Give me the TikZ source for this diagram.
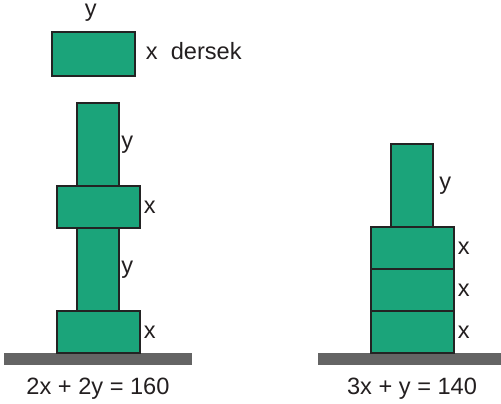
\documentclass[tikz,border=0pt]{standalone}
\usepackage{fontspec}
\setmainfont{Liberation Sans}
\usepackage{tikz}
\usetikzlibrary{positioning}
\definecolor{blockgreen}{RGB}{27,164,122}
\definecolor{edgegray}{RGB}{35,35,35}
\definecolor{groundgray}{RGB}{100,100,100}
\definecolor{textgray}{RGB}{35,31,32}
\tikzset{
  xblock/.style={
    rectangle, draw=edgegray, line width=1.5pt, fill=blockgreen,
    minimum width=62.25pt, minimum height=31.5pt, inner sep=0pt, outer sep=0pt
  },
  yblock/.style={
    xblock, minimum width=31.5pt, minimum height=62.25pt
  },
  ground/.style={
    rectangle, fill=groundgray, minimum width=141pt, minimum height=9pt,
    inner sep=0pt, outer sep=0pt
  },
  lbl/.style={
    inner sep=1pt, text=textgray, font=\fontsize{17.7}{20}\selectfont
  }
}
\begin{document}
\begin{tikzpicture}[x=0.75pt, y=-0.75pt]
  \useasboundingbox (0,0) rectangle (501,404);

  % Legend block
  \node[xblock, minimum height=33pt] (topbox) at (93.5,54) {};
  \node[lbl, above=6.5pt of topbox, xshift=-2pt] (toplab) {y};
  \node[lbl, right=7pt of topbox, yshift=2pt] (legend) {x\ \ dersek};

  % Left tower: 2x + 2y
  \node[ground] (groundL) at (98,359) {};
  \node[xblock, above=0pt of groundL] (xL1) {};
  \node[yblock, above=0pt of xL1] (yL1) {};
  \node[xblock, above=0pt of yL1] (xL2) {};
  \node[yblock, above=0pt of xL2] (yL2) {};
  \node[lbl, right=2pt of xL1] (xL1lab) {x};
  \node[lbl, right=0.5pt of yL1] (yL1lab) {y};
  \node[lbl, right=2pt of xL2] (xL2lab) {x};
  \node[lbl, right=0.5pt of yL2] (yL2lab) {y};
  \node[lbl, below=8.5pt of groundL] (eqL) {2x + 2y = 160};

  % Right tower: 3x + y
  \node[ground, minimum width=137.25pt] (groundR) at (409.5,359) {};
  \node[xblock, above=0pt of groundR, xshift=1.9pt] (xR1) {};
  \node[xblock, above=0pt of xR1] (xR2) {};
  \node[xblock, above=0pt of xR2] (xR3) {};
  \node[yblock, above=0pt of xR3] (yR1) {};
  \node[lbl, right=2pt of xR1] (xR1lab) {x};
  \node[lbl, right=2pt of xR2] (xR2lab) {x};
  \node[lbl, right=2pt of xR3] (xR3lab) {x};
  \node[lbl, right=3.5pt of yR1] (yR1lab) {y};
  \node[lbl, below=8.5pt of groundR, xshift=1.9pt] (eqR) {3x + y = 140};
\end{tikzpicture}
\end{document}
